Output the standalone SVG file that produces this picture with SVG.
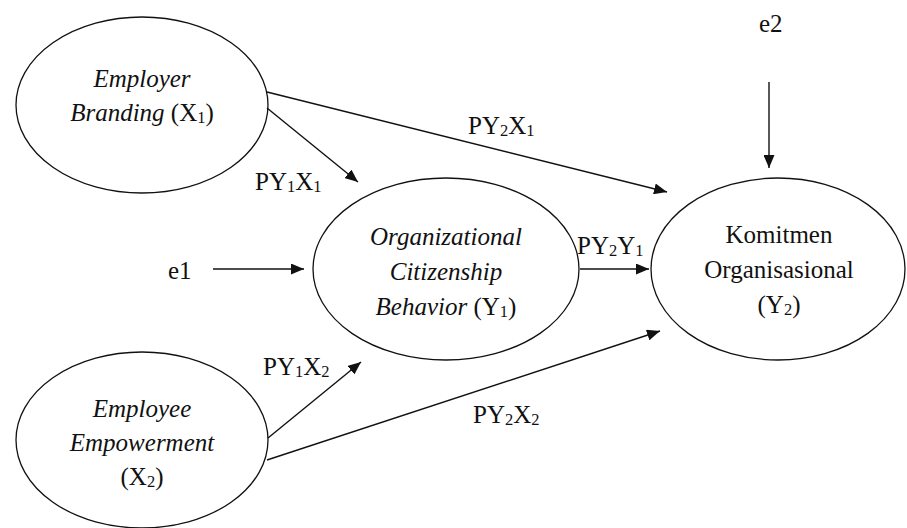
<svg xmlns="http://www.w3.org/2000/svg" width="907" height="528" viewBox="0 0 907 528" font-family="'Liberation Serif', 'Times New Roman', serif">
  <style>
    text { font-size: 25px; fill: #111; }
    .c { text-anchor: middle; }
    .i { font-style: italic; }
    .sub { font-size: 16.5px; }
    .node { fill: #fff; stroke: #111; stroke-width: 1.3; }
    .edge { stroke: #111; stroke-width: 1.4; fill: none; marker-end: url(#arrow); }
  </style>
  <defs>
    <marker id="arrow" markerUnits="userSpaceOnUse" markerWidth="13" markerHeight="11" refX="13" refY="5.5" orient="auto">
      <path d="M0,0 L13,5.5 L0,11 z" fill="#111"/>
    </marker>
  </defs>

  <rect width="907" height="528" fill="#fff"/>

  <g id="employer-branding">
    <ellipse class="node" cx="142" cy="105" rx="126" ry="88"/>
    <text class="c i" x="142" y="87">Employer</text>
    <text class="c" x="142" y="121"><tspan class="i">Branding</tspan> (X<tspan class="sub" dy="2">1</tspan><tspan dy="-2">)</tspan></text>
  </g>

  <g id="employee-empowerment">
    <ellipse class="node" cx="142" cy="440" rx="126" ry="88"/>
    <text class="c i" x="142" y="417">Employee</text>
    <text class="c i" x="142" y="451">Empowerment</text>
    <text class="c" x="142" y="485">(X<tspan class="sub" dy="2">2</tspan><tspan dy="-2">)</tspan></text>
  </g>

  <g id="ocb">
    <ellipse class="node" cx="446" cy="269" rx="133" ry="91"/>
    <text class="c i" x="446" y="245">Organizational</text>
    <text class="c i" x="446" y="280">Citizenship</text>
    <text class="c" x="446" y="315"><tspan class="i">Behavior</tspan> (Y<tspan class="sub" dy="2">1</tspan><tspan dy="-2">)</tspan></text>
  </g>

  <g id="komitmen">
    <ellipse class="node" cx="778" cy="269" rx="127" ry="91"/>
    <text class="c" x="779" y="243">Komitmen</text>
    <text class="c" x="779" y="278">Organisasional</text>
    <text class="c" x="779" y="313">(Y<tspan class="sub" dy="2">2</tspan><tspan dy="-2">)</tspan></text>
  </g>

  <g id="e1">
    <text x="168" y="279">e1</text>
  </g>
  <g id="e2">
    <text x="759" y="32">e2</text>
  </g>

  <g id="connectors">
    <line class="edge" x1="267" y1="108" x2="358" y2="182"/>
    <line class="edge" x1="267" y1="92" x2="667" y2="192"/>
    <line class="edge" x1="268" y1="438" x2="361" y2="362"/>
    <line class="edge" x1="267" y1="460" x2="660" y2="331"/>
    <line class="edge" x1="213" y1="269" x2="304" y2="269"/>
    <line class="edge" x1="580" y1="269" x2="649" y2="269"/>
    <line class="edge" x1="769" y1="82" x2="769" y2="168"/>
  </g>

  <g id="labels">
    <text x="255" y="190">PY<tspan class="sub" dy="2">1</tspan><tspan dy="-2">X</tspan><tspan class="sub" dy="2">1</tspan></text>
    <text x="468" y="134">PY<tspan class="sub" dy="2">2</tspan><tspan dy="-2">X</tspan><tspan class="sub" dy="2">1</tspan></text>
    <text x="577" y="254">PY<tspan class="sub" dy="2">2</tspan><tspan dy="-2">Y</tspan><tspan class="sub" dy="2">1</tspan></text>
    <text x="263" y="375">PY<tspan class="sub" dy="2">1</tspan><tspan dy="-2">X</tspan><tspan class="sub" dy="2">2</tspan></text>
    <text x="473" y="423">PY<tspan class="sub" dy="2">2</tspan><tspan dy="-2">X</tspan><tspan class="sub" dy="2">2</tspan></text>
  </g>
</svg>
